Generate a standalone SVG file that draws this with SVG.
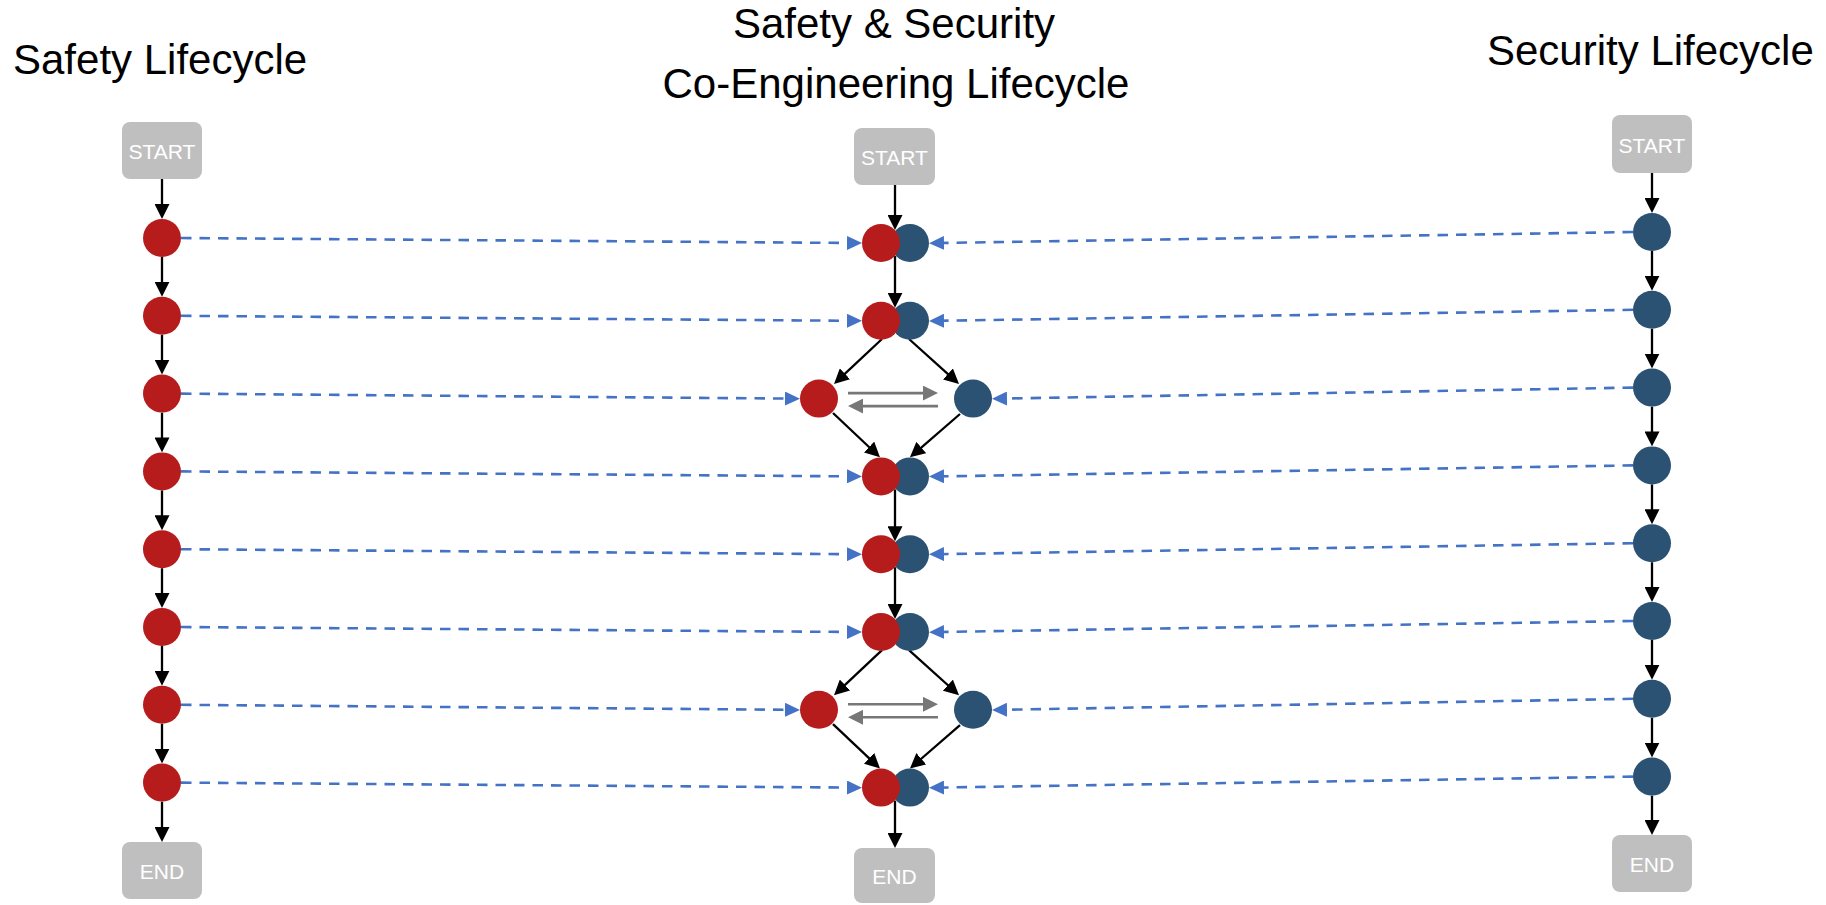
<svg xmlns="http://www.w3.org/2000/svg" width="1826" height="905" viewBox="0 0 1826 905">
<style>
.title{font-family:"Liberation Sans",Arial,sans-serif;font-size:42px;fill:#000}
.box{fill:#BFBFBF}
.bt{font-family:"Liberation Sans",Arial,sans-serif;font-size:21px;fill:#fff;text-anchor:middle}
.red{fill:#B71C1C}
.blue{fill:#2B5273}
.blk{stroke:#000;stroke-width:2.3;fill:none;marker-end:url(#ab)}
.dash{stroke:#4472C4;stroke-width:2.6;stroke-dasharray:10.5 8;fill:none;marker-end:url(#au)}
.gray{stroke:#777;stroke-width:2.6;fill:none;marker-end:url(#ag)}
</style>
<defs>
<marker id="ab" markerUnits="userSpaceOnUse" markerWidth="15" markerHeight="15" refX="5" refY="7.5" orient="auto"><path d="M0,0 L15,7.5 L0,15 z" fill="#000"/></marker>
<marker id="au" markerUnits="userSpaceOnUse" markerWidth="15" markerHeight="14" refX="5" refY="7" orient="auto"><path d="M0,0 L15,7 L0,14 z" fill="#4472C4"/></marker>
<marker id="ag" markerUnits="userSpaceOnUse" markerWidth="15" markerHeight="15" refX="5" refY="7.5" orient="auto"><path d="M0,0 L15,7.5 L0,15 z" fill="#777"/></marker>
</defs>
<rect width="1826" height="905" fill="#fff"/>
<g id="titles">
<text class="title" x="13" y="74">Safety Lifecycle</text>
<text class="title" x="894" y="38" text-anchor="middle">Safety &amp; Security</text>
<text class="title" x="896" y="98" text-anchor="middle">Co-Engineering Lifecycle</text>
<text class="title" x="1487" y="65">Security Lifecycle</text>
</g>
<g id="connectors">
<line class="blk" x1="162" y1="179" x2="162" y2="209"/>
<line class="blk" x1="162" y1="257" x2="162" y2="286.8"/>
<line class="blk" x1="162" y1="334.8" x2="162" y2="364.6"/>
<line class="blk" x1="162" y1="412.6" x2="162" y2="442.4"/>
<line class="blk" x1="162" y1="490.4" x2="162" y2="520.2"/>
<line class="blk" x1="162" y1="568.2" x2="162" y2="598"/>
<line class="blk" x1="162" y1="646" x2="162" y2="675.8"/>
<line class="blk" x1="162" y1="723.8" x2="162" y2="753.6"/>
<line class="blk" x1="162" y1="801.6" x2="162" y2="832"/>
<line class="blk" x1="1652" y1="173" x2="1652" y2="203"/>
<line class="blk" x1="1652" y1="251" x2="1652" y2="280.8"/>
<line class="blk" x1="1652" y1="328.8" x2="1652" y2="358.6"/>
<line class="blk" x1="1652" y1="406.6" x2="1652" y2="436.4"/>
<line class="blk" x1="1652" y1="484.4" x2="1652" y2="514.2"/>
<line class="blk" x1="1652" y1="562.2" x2="1652" y2="592"/>
<line class="blk" x1="1652" y1="640" x2="1652" y2="669.8"/>
<line class="blk" x1="1652" y1="717.8" x2="1652" y2="747.6"/>
<line class="blk" x1="1652" y1="795.6" x2="1652" y2="825"/>
<line class="blk" x1="895" y1="185" x2="895" y2="220"/>
<line class="blk" x1="895" y1="256" x2="895" y2="297.8"/>
<line class="blk" x1="895" y1="489.4" x2="895" y2="531.2"/>
<line class="blk" x1="895" y1="567.2" x2="895" y2="609"/>
<line class="blk" x1="895" y1="800.6" x2="895" y2="838"/>
<line class="blk" x1="882" y1="339" x2="841.3" y2="377.2"/>
<line class="blk" x1="909" y1="339" x2="951.6" y2="377.3"/>
<line class="blk" x1="833" y1="413" x2="872.7" y2="450.5"/>
<line class="blk" x1="960" y1="414" x2="917.5" y2="450.8"/>
<line class="blk" x1="882" y1="650.2" x2="841.3" y2="688.4"/>
<line class="blk" x1="909" y1="650.2" x2="951.6" y2="688.5"/>
<line class="blk" x1="833" y1="724.2" x2="872.7" y2="761.7"/>
<line class="blk" x1="960" y1="725.2" x2="917.5" y2="762"/>
<line class="gray" x1="848" y1="393.1" x2="928" y2="393.1"/>
<line class="gray" x1="938" y1="406.1" x2="858" y2="406.1"/>
<line class="gray" x1="848" y1="704.3" x2="928" y2="704.3"/>
<line class="gray" x1="938" y1="717.3" x2="858" y2="717.3"/>
<line class="dash" x1="181" y1="238" x2="852" y2="243"/>
<line class="dash" x1="181" y1="315.8" x2="852" y2="320.8"/>
<line class="dash" x1="181" y1="393.6" x2="790" y2="398.6"/>
<line class="dash" x1="181" y1="471.4" x2="852" y2="476.4"/>
<line class="dash" x1="181" y1="549.2" x2="852" y2="554.2"/>
<line class="dash" x1="181" y1="627" x2="852" y2="632"/>
<line class="dash" x1="181" y1="704.8" x2="790" y2="709.8"/>
<line class="dash" x1="181" y1="782.6" x2="852" y2="787.6"/>
<line class="dash" x1="1633" y1="232" x2="939" y2="243"/>
<line class="dash" x1="1633" y1="309.8" x2="939" y2="320.8"/>
<line class="dash" x1="1633" y1="387.6" x2="1002" y2="398.6"/>
<line class="dash" x1="1633" y1="465.4" x2="939" y2="476.4"/>
<line class="dash" x1="1633" y1="543.2" x2="939" y2="554.2"/>
<line class="dash" x1="1633" y1="621" x2="939" y2="632"/>
<line class="dash" x1="1633" y1="698.8" x2="1002" y2="709.8"/>
<line class="dash" x1="1633" y1="776.6" x2="939" y2="787.6"/>
</g>
<g id="left-start"><rect class="box" x="122" y="122" width="80" height="57" rx="8"/><text class="bt" x="162" y="159">START</text></g>
<g id="left-n0"><circle class="red" cx="162" cy="238" r="19"/></g>
<g id="left-n1"><circle class="red" cx="162" cy="315.8" r="19"/></g>
<g id="left-n2"><circle class="red" cx="162" cy="393.6" r="19"/></g>
<g id="left-n3"><circle class="red" cx="162" cy="471.4" r="19"/></g>
<g id="left-n4"><circle class="red" cx="162" cy="549.2" r="19"/></g>
<g id="left-n5"><circle class="red" cx="162" cy="627" r="19"/></g>
<g id="left-n6"><circle class="red" cx="162" cy="704.8" r="19"/></g>
<g id="left-n7"><circle class="red" cx="162" cy="782.6" r="19"/></g>
<g id="left-end"><rect class="box" x="122" y="842" width="80" height="57" rx="8"/><text class="bt" x="162" y="879">END</text></g>
<g id="right-start"><rect class="box" x="1612" y="115" width="80" height="58" rx="8"/><text class="bt" x="1652" y="153">START</text></g>
<g id="right-n0"><circle class="blue" cx="1652" cy="232" r="19"/></g>
<g id="right-n1"><circle class="blue" cx="1652" cy="309.8" r="19"/></g>
<g id="right-n2"><circle class="blue" cx="1652" cy="387.6" r="19"/></g>
<g id="right-n3"><circle class="blue" cx="1652" cy="465.4" r="19"/></g>
<g id="right-n4"><circle class="blue" cx="1652" cy="543.2" r="19"/></g>
<g id="right-n5"><circle class="blue" cx="1652" cy="621" r="19"/></g>
<g id="right-n6"><circle class="blue" cx="1652" cy="698.8" r="19"/></g>
<g id="right-n7"><circle class="blue" cx="1652" cy="776.6" r="19"/></g>
<g id="right-end"><rect class="box" x="1612" y="835" width="80" height="57" rx="8"/><text class="bt" x="1652" y="872">END</text></g>
<g id="center-start"><rect class="box" x="854" y="128" width="81" height="57" rx="8"/><text class="bt" x="894.5" y="165">START</text></g>
<g id="center-p0"><circle class="blue" cx="910" cy="243" r="19"/><circle class="red" cx="881" cy="243" r="19"/></g>
<g id="center-p1"><circle class="blue" cx="910" cy="320.8" r="19"/><circle class="red" cx="881" cy="320.8" r="19"/></g>
<g id="center-d1-safety"><circle class="red" cx="819" cy="398.6" r="19"/></g>
<g id="center-d1-security"><circle class="blue" cx="973" cy="398.6" r="19"/></g>
<g id="center-p3"><circle class="blue" cx="910" cy="476.4" r="19"/><circle class="red" cx="881" cy="476.4" r="19"/></g>
<g id="center-p4"><circle class="blue" cx="910" cy="554.2" r="19"/><circle class="red" cx="881" cy="554.2" r="19"/></g>
<g id="center-p5"><circle class="blue" cx="910" cy="632" r="19"/><circle class="red" cx="881" cy="632" r="19"/></g>
<g id="center-d2-safety"><circle class="red" cx="819" cy="709.8" r="19"/></g>
<g id="center-d2-security"><circle class="blue" cx="973" cy="709.8" r="19"/></g>
<g id="center-p7"><circle class="blue" cx="910" cy="787.6" r="19"/><circle class="red" cx="881" cy="787.6" r="19"/></g>
<g id="center-end"><rect class="box" x="854" y="848" width="81" height="55" rx="8"/><text class="bt" x="894.5" y="884">END</text></g>
</svg>
